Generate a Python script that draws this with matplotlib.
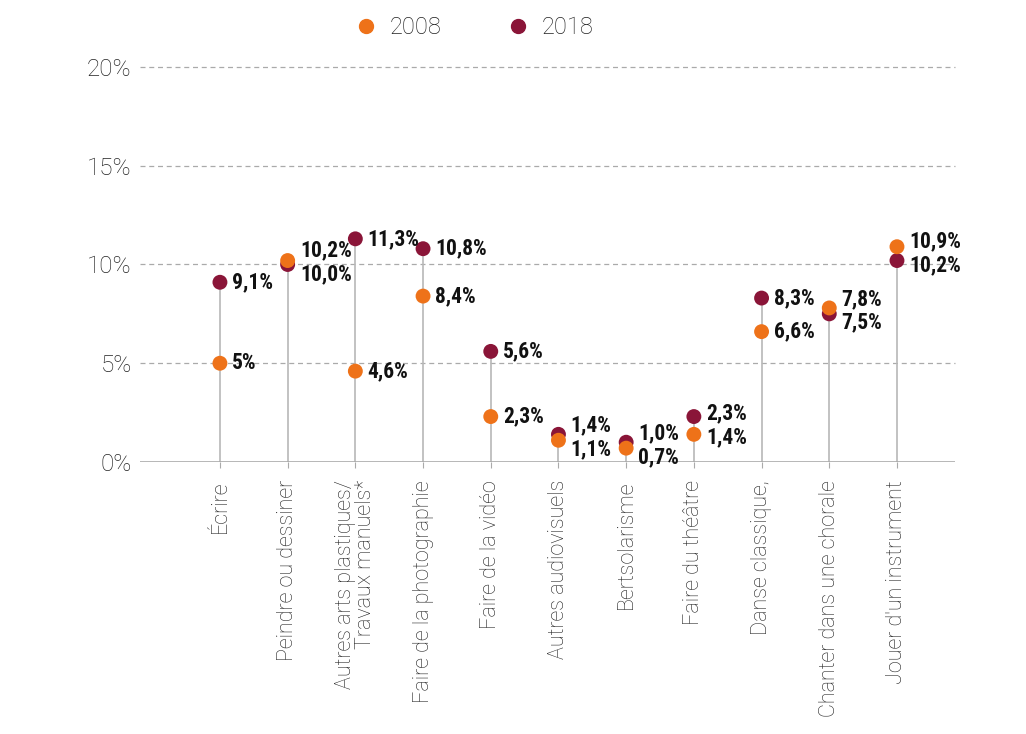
import matplotlib
matplotlib.use("Agg")
import matplotlib.pyplot as plt
from matplotlib.lines import Line2D

# data (percent)
categories = ["Écrire", "Peindre ou dessiner", "Autres arts plastiques/\nTravaux manuels*",
              "Faire de la photographie", "Faire de la vidéo", "Autres audiovisuels",
              "Bertsolarisme", "Faire du théâtre", "Danse classique,",
              "Chanter dans une chorale", "Jouer d'un instrument"]
v2008 = [5.0, 10.2, 4.6, 8.4, 2.3, 1.1, 0.7, 1.4, 6.6, 7.8, 10.9]
v2018 = [9.1, 10.0, 11.3, 10.8, 5.6, 1.4, 1.0, 2.3, 8.3, 7.5, 10.2]
lab2008 = ["5%", "10,2%", "4,6%", "8,4%", "2,3%", "1,1%", "0,7%", "1,4%", "6,6%", "7,8%", "10,9%"]
lab2018 = ["9,1%", "10,0%", "11,3%", "10,8%", "5,6%", "1,4%", "1,0%", "2,3%", "8,3%", "7,5%", "10,2%"]
yticks = [0, 5, 10, 15, 20]

ORANGE = "#EE7219"
MAROON = "#8A1538"
TXT = "#222222"

plt.rcParams["font.family"] = ["Roboto", "DejaVu Sans"]

fig = plt.figure(figsize=(10.26, 7.34), dpi=100)
ax = fig.add_axes([0.1365, 0.3706, 0.7945, 0.5381])

x = list(range(len(categories)))

# stems
for i in x:
    ax.plot([i, i], [0, max(v2008[i], v2018[i])], color="#b8b8b8", lw=1.2, zorder=1)

ax.scatter(x, v2018, s=115, color=MAROON, zorder=3, edgecolors="none")
ax.scatter(x, v2008, s=115, color=ORANGE, zorder=4, edgecolors="none")

# value labels, pushed apart when the two dots are close
min_sep = 1.2
lab_font = dict(family=["Roboto Condensed", "DejaVu Sans"], fontweight="bold",
                fontsize=15.5, color="#111111", va="center", ha="left")
for i in x:
    a, b = v2008[i], v2018[i]
    ya, yb = a, b
    if abs(a - b) < min_sep:
        mid = (a + b) / 2
        if a >= b:
            ya, yb = mid + min_sep / 2, mid - min_sep / 2
        else:
            ya, yb = mid - min_sep / 2, mid + min_sep / 2
    ax.text(i + 0.18, ya, lab2008[i], **lab_font)
    ax.text(i + 0.18, yb, lab2018[i], **lab_font)

ax.set_xlim(-1.18, 10.86)
ax.set_ylim(0, 20)
ax.set_yticks(yticks)
ax.set_yticklabels([f"{t}%" for t in yticks])
for t in yticks[1:]:
    ax.axhline(t, color="#aaaaaa", lw=0.9, ls=(0, (4, 3)), zorder=0, clip_on=False)
ax.axhline(0, color="#aaaaaa", lw=1.2, zorder=2)

ax.set_xticks(x)
ax.set_xticklabels(categories, rotation=90, ha="center", va="top", multialignment="right",
                   fontsize=15.5, fontweight="light", color=TXT, linespacing=0.95)
ax.tick_params(axis="x", length=4, color="#aaaaaa", pad=9)
ax.tick_params(axis="y", length=0, labelsize=17.5, labelcolor=TXT, pad=6)
for lab in ax.get_yticklabels():
    lab.set_fontweight("light")

for s in ax.spines.values():
    s.set_visible(False)

handles = [Line2D([], [], ls="none", marker="o", markersize=10, color=ORANGE, label="2008"),
           Line2D([], [], ls="none", marker="o", markersize=10, color=MAROON, label="2018")]
leg = fig.legend(handles=handles, loc="center", bbox_to_anchor=(0.4605, 0.962), ncol=2,
                 frameon=False, fontsize=17, columnspacing=2.62, handletextpad=0.4,
                 handlelength=1.2)
for t in leg.get_texts():
    t.set_color(TXT)
    t.set_fontweight("light")

fig.savefig("out.png", dpi=100)
